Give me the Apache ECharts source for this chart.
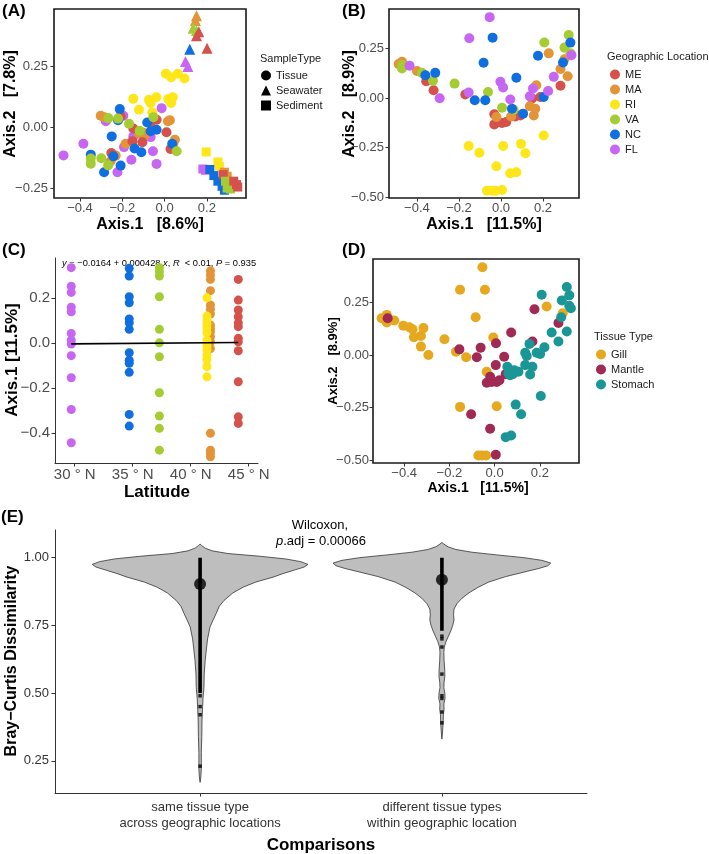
<!DOCTYPE html>
<html><head><meta charset="utf-8">
<script src="https://cdn.jsdelivr.net/npm/echarts@6/dist/echarts.min.js"></script>
<style>html,body{margin:0;padding:0;background:#fff}#c{width:709px;height:854px}</style>
</head><body><div id="c"></div>
<script>
const FONT = "'Liberation Sans', Arial, Helvetica, sans-serif";

// ---------- categories / colours ----------
const locations = ['ME', 'MA', 'RI', 'VA', 'NC', 'FL'];
const locColors = ['#D4524B', '#E39438', '#FFE619', '#A6CC33', '#0F6FE0', '#C766F2'];
const tissues = ['Gill', 'Mantle', 'Stomach'];
const tissueColors = ['#E5A81E', '#A12A55', '#1A9696'];
const sampleTypes = ['Tissue', 'Seawater', 'Sediment'];

// ---------- panel A : PCoA by sample type  [x, y, location] ----------
const aTissue = [
  [0.006,0.220,'RI'],[0.031,0.206,'RI'],[0.063,0.220,'RI'],[0.094,0.201,'RI'],[-0.148,0.117,'RI'],[-0.121,0.072,'RI'],
  [-0.074,0.113,'RI'],[-0.039,0.124,'RI'],[-0.066,0.100,'RI'],[0.017,0.116,'RI'],[0.031,0.100,'RI'],[0.039,0.124,'RI'],[-0.058,0.061,'RI'],
  [-0.478,-0.115,'FL'],[-0.384,-0.067,'FL'],[-0.278,0.025,'FL'],[-0.195,0.048,'FL'],[-0.192,-0.081,'FL'],[-0.223,-0.184,'FL'],
  [-0.157,-0.133,'FL'],[-0.148,-0.037,'FL'],[-0.066,-0.040,'FL'],[-0.055,-0.098,'FL'],[-0.038,-0.150,'FL'],[-0.014,0.079,'FL'],
  [-0.302,0.048,'MA'],[-0.286,0.042,'MA'],[-0.231,-0.116,'MA'],[-0.255,-0.139,'MA'],[-0.184,-0.067,'MA'],[-0.121,-0.026,'MA'],
  [-0.097,-0.023,'MA'],[0.016,0.025,'MA'],[0.025,0.029,'MA'],[0.049,-0.051,'MA'],[0.041,-0.071,'MA'],[-0.097,-0.037,'MA'],
  [-0.208,0.045,'ME'],[-0.252,-0.105,'ME'],[-0.148,-0.005,'ME'],[-0.152,-0.057,'ME'],[-0.105,-0.061,'ME'],[-0.066,0.020,'ME'],
  [-0.038,0.031,'ME'],[0.009,-0.020,'ME'],[0.028,-0.089,'ME'],
  [-0.349,-0.112,'NC'],[-0.286,-0.184,'NC'],[-0.212,0.075,'NC'],[-0.220,0.029,'NC'],[-0.250,-0.037,'NC'],[-0.242,-0.119,'NC'],
  [-0.208,-0.157,'NC'],[-0.142,-0.087,'NC'],[-0.110,-0.102,'NC'],[-0.082,0.020,'NC'],[-0.066,-0.016,'NC'],[-0.038,-0.010,'NC'],[0.036,-0.067,'NC'],
  [-0.349,-0.128,'VA'],[-0.349,-0.149,'VA'],[-0.299,-0.127,'VA'],[-0.267,-0.156,'VA'],[-0.266,0.038,'VA'],[-0.220,0.036,'VA'],
  [-0.168,0.015,'VA'],[-0.118,-0.014,'VA'],[-0.053,0.042,'VA'],[0.057,-0.098,'VA']
];
const aSeawater = [
  [0.151,0.458,'MA'],[0.146,0.439,'MA'],[0.135,0.407,'VA'],[0.151,0.398,'VA'],[0.162,0.393,'ME'],
  [0.151,0.376,'ME'],[0.201,0.325,'ME'],[0.119,0.321,'NC'],[0.099,0.270,'FL'],[0.110,0.250,'FL']
];
const aSediment = [
  [0.197,-0.101,'RI'],[0.252,-0.142,'RI'],[0.259,-0.160,'RI'],[0.181,-0.171,'FL'],[0.193,-0.176,'FL'],
  [0.214,-0.173,'NC'],[0.233,-0.198,'NC'],[0.252,-0.221,'NC'],[0.272,-0.242,'NC'],[0.283,-0.258,'NC'],
  [0.283,-0.184,'MA'],[0.296,-0.201,'MA'],[0.277,-0.194,'ME'],[0.288,-0.221,'VA'],[0.303,-0.235,'VA'],
  [0.311,-0.253,'VA'],[0.296,-0.249,'VA'],[0.327,-0.221,'ME'],[0.340,-0.235,'ME'],[0.346,-0.245,'ME']
];

// ---------- panel B : tissue PCoA by location [Axis.1, Axis.2] ----------
const bME = [[-0.356,0.084],[-0.321,0.039],[-0.170,0.017],[-0.032,-0.082],[-0.032,-0.133],[0.005,-0.126],[0.025,-0.121],[0.068,-0.093],[0.092,-0.088],[0.148,-0.003],[0.187,0.005],[0.283,0.061]];
const bMA = [[-0.487,0.170],[-0.471,0.182],[-0.400,0.135],[-0.022,-0.096],[0.048,-0.093],[0.137,-0.042],[0.163,-0.054],[0.156,-0.088],[0.168,0.064],[0.227,0.224],[0.283,0.145],[0.302,0.194],[0.317,0.109]];
const bRI = [[-0.154,-0.242],[-0.103,-0.276],[-0.022,-0.343],[0.010,-0.242],[0.095,-0.231],[0.116,-0.278],[0.203,-0.189],[0.044,-0.379],[0.073,-0.374],[-0.067,-0.466],[-0.043,-0.466],[-0.027,-0.466],[0.005,-0.463]];
const bVA = [[-0.471,0.165],[-0.471,0.148],[-0.376,0.126],[-0.324,0.086],[-0.221,0.072],[-0.062,0.030],[0.005,-0.049],[0.060,-0.059],[0.206,0.279],[0.302,0.253],[0.322,0.316],[0.330,0.224]];
const bNC = [[-0.040,0.303],[-0.083,0.177],[0.073,0.101],[-0.360,0.114],[-0.313,0.126],[-0.125,-0.012],[-0.075,-0.012],[0.052,-0.054],[0.105,-0.079],[0.176,0.212],[0.203,0.005],[0.295,0.178],[0.330,0.278]];
const bFL = [[-0.054,0.406],[-0.151,0.300],[-0.435,0.162],[-0.292,-0.002],[-0.154,0.027],[-0.003,0.081],[0.010,0.052],[0.044,-0.008],[0.152,0.047],[0.137,0.008],[0.224,0.035],[0.251,0.106],[0.335,0.215]];
const bSeries = [bME, bMA, bRI, bVA, bNC, bFL];

// ---------- panel C : Axis.1 vs latitude ----------
const cLatitude = [44.1, 41.7, 41.4, 37.3, 34.7, 29.7];   // ME, MA, RI, VA, NC, FL
const cME = [0.283,0.191,0.147,0.117,0.090,0.073,0.021,0.006,-0.034,-0.172,-0.328,-0.357];
const cMA = [0.321,0.302,0.283,0.233,0.169,0.150,0.129,0.080,0.065,0.050,0.028,0.006,-0.024,-0.401,-0.476,-0.490,-0.505];
const cRI = [0.201,0.120,0.102,0.084,0.068,0.047,0.013,-0.012,-0.031,-0.053,-0.073,-0.105,-0.150];
const cVA = [0.335,0.317,0.298,0.206,0.061,0.001,-0.061,-0.221,-0.324,-0.379,-0.476];
const cNC = [0.332,0.298,0.206,0.179,0.107,0.090,0.061,-0.043,-0.076,-0.090,-0.130,-0.317,-0.369];
const cFL = [0.335,0.253,0.225,0.159,0.139,0.043,0.013,-0.004,-0.056,-0.154,-0.295,-0.443];
const cSeries = [cME, cMA, cRI, cVA, cNC, cFL];
const cIntercept = -0.0164, cSlope = 0.000428;
const cLatTicks = [30, 35, 40, 45];

// ---------- panel D : tissue PCoA by tissue type ----------
const dGill = [[-0.054,0.418],[-0.153,0.311],[-0.043,0.311],[-0.084,0.180],[-0.500,0.175],[-0.477,0.191],[-0.477,0.155],[-0.444,0.164],
  [-0.404,0.139],[-0.377,0.132],[-0.363,0.123],[-0.357,0.085],[-0.326,0.091],[-0.315,0.128],[-0.326,0.040],[-0.293,0.000],
  [-0.222,0.075],[-0.171,0.016],[-0.126,-0.011],[-0.006,0.083],[-0.035,-0.080],[0.230,0.231],[0.301,0.199],
  [-0.153,-0.247],[0.009,-0.244],[-0.072,-0.478],[-0.057,-0.478],[-0.038,-0.478]];
const dMantle = [[-0.473,0.175],[0.176,0.218],[0.073,0.107],[0.167,0.064],[-0.156,0.027],[-0.062,0.035],[0.006,0.056],[-0.079,-0.011],
  [0.042,-0.008],[0.005,-0.048],[0.049,-0.091],[0.282,0.152],[-0.035,-0.132],[-0.013,-0.128],[0.009,-0.128],[0.021,-0.120],[-0.020,-0.104],
  [-0.104,-0.282],[-0.020,-0.351],[0.005,-0.475]];
const dStomach = [[0.319,0.324],[0.330,0.284],[0.297,0.260],[0.208,0.287],[0.330,0.234],[0.337,0.223],[0.294,0.180],[0.319,0.112],
  [0.252,0.107],[0.282,0.064],[0.154,0.053],[0.220,0.037],[0.135,0.011],[0.142,-0.005],[0.186,0.011],[0.201,0.005],[0.167,-0.056],
  [0.135,-0.048],[0.157,-0.093],[0.056,-0.056],[0.061,-0.088],[0.080,-0.091],[0.105,-0.080],[0.086,-0.072],[0.068,-0.096],
  [0.204,-0.195],[0.093,-0.236],[0.117,-0.282],[0.049,-0.391],[0.073,-0.383]];
const dSeries = [dGill, dMantle, dStomach];

// ---------- panel E : violins of Bray-Curtis dissimilarity ----------
const eCategories = ['same tissue type\nacross geographic locations', 'different tissue types\nwithin geographic location'];
const v1Value = [1.050,1.045,1.035,1.025,1.015,1.005,0.995,0.985,0.975,0.965,0.955,0.940,0.928,0.910,0.891,0.870,0.842,0.820,0.793,0.770,0.744,0.700,0.670,0.620,0.570,0.520,0.480,0.440,0.400,0.340,0.280,0.220,0.190,0.170];
const v1Half  = [0,0.006,0.021,0.050,0.116,0.248,0.355,0.417,0.446,0.430,0.393,0.339,0.302,0.231,0.178,0.136,0.099,0.079,0.066,0.054,0.041,0.031,0.027,0.021,0.017,0.016,0.012,0.010,0.008,0.007,0.005,0.005,0.003,0];
const v2Value = [1.056,1.050,1.040,1.030,1.020,1.010,1.000,0.990,0.980,0.970,0.960,0.950,0.930,0.910,0.890,0.870,0.850,0.830,0.810,0.790,0.770,0.750,0.730,0.710,0.690,0.670,0.650,0.620,0.580,0.560,0.540,0.520,0.500,0.480,0.460,0.440,0.420,0.390,0.360,0.330];
const v2Half  = [0,0.008,0.025,0.058,0.124,0.227,0.339,0.413,0.450,0.438,0.401,0.355,0.264,0.194,0.149,0.112,0.083,0.062,0.050,0.048,0.050,0.045,0.037,0.027,0.017,0.010,0.008,0.009,0.012,0.012,0.009,0.008,0.012,0.013,0.008,0.009,0.006,0.005,0.003,0];
const eMedian = [0.903, 0.918];
const eBarTop = [1.00, 1.00];
const eBarBottom = [0.50, 0.73];
const eDots1 = [0.49, 0.45, 0.42, 0.23];
const eDots2 = [0.71, 0.70, 0.67, 0.57, 0.49, 0.48, 0.43, 0.39];
const eTicks = [0.25, 0.50, 0.75, 1.00];

// ---------- helpers ----------
const fmt = d => v => (v < 0 ? '\u2212' : '') + Math.abs(v).toFixed(d);
const tickStyle = {show: true, length: 3.5, lineStyle: {color: '#333', width: 1}};
function valAxis(gi, min, max, ticks, formatter, o) {
  o = o || {};
  return {
    type: 'value', gridIndex: gi, min: min, max: max,
    splitLine: {show: false},
    axisLine: {show: !!o.line, onZero: false, lineStyle: {color: '#333', width: 1}},
    axisTick: Object.assign({}, tickStyle, {customValues: ticks}),
    axisLabel: {customValues: ticks, formatter: formatter, color: o.color || '#4D4D4D',
      fontSize: o.fs || 13, fontFamily: FONT, margin: o.margin || 5, lineHeight: o.lh || undefined}
  };
}
const frame = {show: true, borderColor: '#1a1a1a', borderWidth: 1.6, backgroundColor: 'transparent'};

const grids = [
  Object.assign({left: 54, top: 9, width: 192, height: 189}, frame),
  Object.assign({left: 389, top: 9, width: 190, height: 189}, frame),
  {left: 55, top: 258, width: 203, height: 205},
  Object.assign({left: 373, top: 259, width: 206, height: 204}, frame),
  {left: 55, top: 530, width: 532, height: 263}
];

const xAxes = [
  valAxis(0, -0.523, 0.385, [-0.4, -0.2, 0, 0.2], fmt(1), {margin: 4}),
  valAxis(1, -0.533, 0.371, [-0.4, -0.2, 0, 0.2], fmt(1), {margin: 4}),
  valAxis(2, 28.3, 45.8, cLatTicks, v => v + ' \u00B0 N', {line: true, fs: 15, margin: 4}),
  valAxis(3, -0.538, 0.373, [-0.4, -0.2, 0, 0.2], fmt(1), {margin: 4}),
  valAxis(4, 0.4, 2.6, [1, 2], v => eCategories[Math.round(v) - 1], {line: true, fs: 13, color: '#333', margin: 6, lh: 16})
];
const yAxes = [
  valAxis(0, -0.29, 0.486, [-0.25, 0, 0.25], fmt(2), {margin: 6}),
  valAxis(1, -0.503, 0.447, [-0.5, -0.25, 0, 0.25], fmt(2), {margin: 5}),
  valAxis(2, -0.533, 0.378, [-0.4, -0.2, 0, 0.2], fmt(1), {line: true, fs: 15, margin: 5}),
  valAxis(3, -0.514, 0.457, [-0.5, -0.25, 0, 0.25], fmt(2), {margin: 4}),
  valAxis(4, 0.131, 1.102, eTicks, fmt(2), {line: true, fs: 13, color: '#333', margin: 6})
];

const series = [];
// A
const aShapes = [['circle', 10, aTissue], ['triangle', 11, aSeawater], ['rect', 9, aSediment]];
aShapes.forEach((s, i) => {
  series.push({
    type: 'scatter', name: sampleTypes[i], xAxisIndex: 0, yAxisIndex: 0,
    symbol: s[0], symbolSize: s[1], itemStyle: {color: '#000', opacity: 1},
    data: s[2].map(p => ({value: [p[0], p[1]], itemStyle: {color: locColors[locations.indexOf(p[2])]}}))
  });
});
// B
bSeries.forEach((arr, i) => series.push({
  type: 'scatter', name: locations[i], xAxisIndex: 1, yAxisIndex: 1, symbol: 'circle', symbolSize: 10,
  itemStyle: {color: locColors[i], opacity: 1}, data: arr
}));
// C
cSeries.forEach((arr, i) => series.push({
  type: 'scatter', name: locations[i], xAxisIndex: 2, yAxisIndex: 2, symbol: 'circle', symbolSize: 9,
  itemStyle: {color: locColors[i], opacity: 1}, data: arr.map(v => [cLatitude[i], v])
}));
const cLo = Math.min(...cLatitude), cHi = Math.max(...cLatitude);
series.push({
  type: 'line', name: 'fit', xAxisIndex: 2, yAxisIndex: 2, symbol: 'none', silent: true,
  lineStyle: {color: '#000', width: 1.6}, z: 5,
  data: [[cLo, cIntercept + cSlope * cLo], [cHi, cIntercept + cSlope * cHi]]
});
// D
dSeries.forEach((arr, i) => series.push({
  type: 'scatter', name: tissues[i], xAxisIndex: 3, yAxisIndex: 3, symbol: 'circle', symbolSize: 10,
  itemStyle: {color: tissueColors[i], opacity: 1}, data: arr
}));
// E violins
const vValues = [v1Value, v2Value], vHalves = [v1Half, v2Half];
series.push({
  type: 'custom', name: 'violin', xAxisIndex: 4, yAxisIndex: 4, silent: true,
  data: [[1, 1], [2, 1]],
  renderItem: function (params, api) {
    const k = params.dataIndex, cx = k + 1, ys = vValues[k], ws = vHalves[k];
    const right = ys.map((y, i) => api.coord([cx + ws[i], y]));
    const left = ys.map((y, i) => api.coord([cx - ws[i], y])).reverse();
    return {type: 'polygon', shape: {points: right.concat(left)},
      style: {fill: '#BEBEBE', stroke: '#333', lineWidth: 0.8}};
  }
});
[0, 1].forEach(k => series.push({
  type: 'line', name: 'range' + k, xAxisIndex: 4, yAxisIndex: 4, symbol: 'none', silent: true,
  lineStyle: {color: '#000', width: 3.6}, z: 4,
  data: [[k + 1, eBarTop[k]], [k + 1, eBarBottom[k]]]
}));
[eDots1, eDots2].forEach((arr, k) => series.push({
  type: 'scatter', name: 'dots' + k, xAxisIndex: 4, yAxisIndex: 4, symbol: 'rect', symbolSize: 3.5, silent: true,
  itemStyle: {color: '#000'}, z: 4, data: arr.map(v => [k + 1, v])
}));
series.push({
  type: 'scatter', name: 'median', xAxisIndex: 4, yAxisIndex: 4, symbol: 'circle', symbolSize: 12, silent: true,
  itemStyle: {color: '#000'}, z: 6, data: eMedian.map((v, k) => [k + 1, v])
});

// ---------- legends ----------
const legText = {fontSize: 11, color: '#1a1a1a', fontFamily: FONT, lineHeight: 10};
const legBase = {orient: 'vertical', itemWidth: 10, itemHeight: 10, itemGap: 4, padding: 0, selectedMode: false, textStyle: legText};
const legends = [
  Object.assign({left: 261, top: 70, data: [{name: 'Tissue', icon: 'circle'}, {name: 'Seawater', icon: 'triangle'}, {name: 'Sediment', icon: 'rect'}]}, legBase),
  Object.assign({left: 610, top: 69, data: locations.map(n => ({name: n, icon: 'circle'}))}, legBase),
  Object.assign({left: 596, top: 349, data: tissues.map(n => ({name: n, icon: 'circle'}))}, legBase)
];

// ---------- texts ----------
function txt(s, x, y, size, opt) {
  opt = opt || {};
  return {type: 'text', x: x, y: y, rotation: opt.rot || 0, silent: true,
    style: {text: s, fontSize: size, fontWeight: opt.bold ? 'bold' : 'normal', fontFamily: FONT,
      fill: opt.color || '#000', align: opt.align || 'center', verticalAlign: 'middle', rich: opt.rich}};
}
const R90 = Math.PI / 2;
const graphics = [
  txt('(A)', 2, 11, 17, {bold: true, align: 'left'}),
  txt('(B)', 342, 11, 17, {bold: true, align: 'left'}),
  txt('(C)', 2, 250, 17, {bold: true, align: 'left'}),
  txt('(D)', 342, 250, 17, {bold: true, align: 'left'}),
  txt('(E)', 1, 517, 17, {bold: true, align: 'left'}),
  txt('Axis.1   [8.6%]', 150, 225, 16, {bold: true}),
  txt('Axis.2   [7.8%]', 11, 104, 16, {bold: true, rot: R90}),
  txt('Axis.1   [11.5%]', 484, 225, 16, {bold: true}),
  txt('Axis.2   [8.9%]', 350, 104, 16, {bold: true, rot: R90}),
  txt('SampleType', 260, 59, 11, {align: 'left', color: '#1a1a1a'}),
  txt('Geographic Location', 607, 57, 11, {align: 'left', color: '#1a1a1a'}),
  txt('Axis.1 [11.5%]', 12, 360, 17, {bold: true, rot: R90}),
  txt('Latitude', 157, 492, 17, {bold: true}),
  txt('{i|y} = \u22120.0164 + 0.000428 {i|x}, {i|R}  < 0.01, {i|P} = 0.935', 62, 263, 9.3,
      {align: 'left', rich: {i: {fontStyle: 'italic', fontSize: 9.3, fontFamily: FONT}}}),
  txt('Axis.1   [11.5%]', 478, 488, 14, {bold: true}),
  txt('Axis.2   [8.9%]', 333, 361, 13, {bold: true, rot: R90}),
  txt('Tissue Type', 594, 337, 11, {align: 'left', color: '#1a1a1a'}),
  txt('Bray\u2212Curtis Dissimilarity', 12, 661, 16, {bold: true, rot: R90}),
  txt('Comparisons', 321, 845, 17, {bold: true}),
  txt('Wilcoxon,', 320, 525, 13, {}),
  txt('{i|p}.adj = 0.00066', 321, 541, 13, {rich: {i: {fontStyle: 'italic', fontSize: 13, fontFamily: FONT}}})
];

const chart = echarts.init(document.getElementById('c'), null, {renderer: 'canvas'});
chart.setOption({
  animation: false,
  backgroundColor: '#fff',
  textStyle: {fontFamily: FONT},
  grid: grids, xAxis: xAxes, yAxis: yAxes,
  legend: legends, series: series, graphic: graphics
});
</script></body></html>
